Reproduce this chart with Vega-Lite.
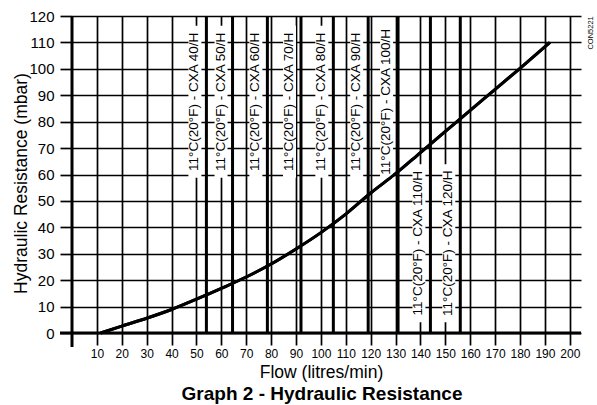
{
  "$schema": "https://vega.github.io/schema/vega-lite/v6.json",
  "width": 509,
  "height": 317,
  "autosize": {"type": "none"},
  "padding": {"left": 72, "top": 16, "right": 16, "bottom": 72},
  "background": "white",
  "title": {"text": "Graph 2 - Hydraulic Resistance", "orient": "bottom", "anchor": "middle", "frame": "group", "fontSize": 19, "fontWeight": "bold", "font": "Liberation Sans", "color": "black", "offset": 4, "dx": -4.5},
  "datasets": {
    "curve": [
      {"flow": 11.5, "resistance": 0},
      {"flow": 20, "resistance": 2.6},
      {"flow": 30, "resistance": 5.6},
      {"flow": 40, "resistance": 8.9},
      {"flow": 50, "resistance": 12.8},
      {"flow": 60, "resistance": 16.9},
      {"flow": 70, "resistance": 21.2},
      {"flow": 80, "resistance": 26.1},
      {"flow": 90, "resistance": 31.8},
      {"flow": 100, "resistance": 38},
      {"flow": 110, "resistance": 45},
      {"flow": 120, "resistance": 53},
      {"flow": 130, "resistance": 60.3},
      {"flow": 140, "resistance": 68.3},
      {"flow": 150, "resistance": 76.3},
      {"flow": 160, "resistance": 84.3},
      {"flow": 170, "resistance": 92.2},
      {"flow": 180, "resistance": 100.2},
      {"flow": 192, "resistance": 110}
    ],
    "models": [
      {"flow": 54, "model": "11°C(20°F) - CXA 40/H", "pos": "upper"},
      {"flow": 64.5, "model": "11°C(20°F) - CXA 50/H", "pos": "upper"},
      {"flow": 78.5, "model": "11°C(20°F) - CXA 60/H", "pos": "upper"},
      {"flow": 92, "model": "11°C(20°F) - CXA 70/H", "pos": "upper"},
      {"flow": 105, "model": "11°C(20°F) - CXA 80/H", "pos": "upper"},
      {"flow": 119, "model": "11°C(20°F) - CXA 90/H", "pos": "upper"},
      {"flow": 131, "model": "11°C(20°F) - CXA 100/H", "pos": "upper"},
      {"flow": 144, "model": "11°C(20°F) - CXA 110/H", "pos": "lower"},
      {"flow": 156, "model": "11°C(20°F) - CXA 120/H", "pos": "lower"}
    ]
  },
  "config": {
    "view": {"stroke": null},
    "font": "Liberation Sans",
    "axis": {
      "grid": true,
      "gridColor": "black",
      "gridWidth": 1.7,
      "gridOpacity": 1,
      "ticks": true,
      "tickColor": "black",
      "tickWidth": 1.7,
      "tickSize": 12,
      "tickCount": 50,
      "domain": false,
      "labelColor": "black",
      "labelFont": "Liberation Sans",
      "titleFont": "Liberation Sans",
      "titleColor": "black",
      "titleFontWeight": "normal",
      "titleFontSize": 17.5
    }
  },
  "layer": [
    {
      "data": {"name": "curve"},
      "mark": {"type": "line", "color": "black", "strokeWidth": 3, "interpolate": "monotone"},
      "encoding": {
        "x": {"field": "flow", "type": "quantitative", "scale": {"domain": [0, 204.5], "nice": false, "zero": false},
          "axis": {"values": [10,20,30,40,50,60,70,80,90,100,110,120,130,140,150,160,170,180,190,200], "tickCount": 50, "labelFontSize": 12, "labelPadding": 3, "labelFlush": false, "labelOverlap": false,
            "title": "Flow (litres/min)", "titleX": 249, "titleY": 44, "titleBaseline": "alphabetic", "titleAlign": "center"}},
        "y": {"field": "resistance", "type": "quantitative", "scale": {"domain": [0, 120], "nice": false, "zero": false},
          "axis": {"values": [0,10,20,30,40,50,60,70,80,90,100,110,120], "tickCount": 50, "labelFontSize": 15, "labelPadding": 6, "labelOverlap": false,
            "title": "Hydraulic Resistance (mbar)", "titleX": -46, "titleY": 167, "titleAngle": 270, "titleBaseline": "alphabetic", "titleAlign": "center"}}
      }
    },
    {
      "data": {"name": "models"},
      "transform": [{"filter": "datum.pos === 'upper'"}],
      "mark": {"type": "rect", "fill": "white", "xOffset": -18, "x2Offset": -5, "yOffset": -76, "y2Offset": 76},
      "encoding": {
        "x": {"field": "flow", "type": "quantitative"},
        "x2": {"field": "flow"},
        "y": {"datum": 87.5, "type": "quantitative"},
        "y2": {"datum": 87.5}
      }
    },
    {
      "data": {"name": "models"},
      "transform": [{"filter": "datum.pos === 'lower'"}],
      "mark": {"type": "rect", "fill": "white", "xOffset": -18, "x2Offset": -5, "yOffset": -79, "y2Offset": 79},
      "encoding": {
        "x": {"field": "flow", "type": "quantitative"},
        "x2": {"field": "flow"},
        "y": {"datum": 34, "type": "quantitative"},
        "y2": {"datum": 34}
      }
    },
    {
      "data": {"name": "models"},
      "mark": {"type": "rule", "color": "black", "strokeWidth": 3},
      "encoding": {
        "x": {"field": "flow", "type": "quantitative"},
        "y": {"datum": 0, "type": "quantitative"},
        "y2": {"datum": 120}
      }
    },
    {
      "data": {"values": [{}]},
      "mark": {"type": "rule", "color": "black", "strokeWidth": 3, "xOffset": -12},
      "encoding": {
        "x": {"datum": 0, "type": "quantitative"},
        "x2": {"datum": 204.5},
        "y": {"datum": 0, "type": "quantitative"}
      }
    },
    {
      "data": {"values": [{}]},
      "mark": {"type": "rule", "color": "black", "strokeWidth": 3, "y2Offset": 14},
      "encoding": {
        "x": {"datum": 0, "type": "quantitative"},
        "y": {"datum": 120, "type": "quantitative"},
        "y2": {"datum": 0}
      }
    },
    {
      "data": {"name": "curve"},
      "mark": {"type": "line", "color": "black", "strokeWidth": 3, "interpolate": "monotone"},
      "encoding": {
        "x": {"field": "flow", "type": "quantitative"},
        "y": {"field": "resistance", "type": "quantitative"}
      }
    },
    {
      "data": {"name": "models"},
      "transform": [{"filter": "datum.pos === 'upper'"}],
      "mark": {"type": "text", "angle": 270, "align": "center", "baseline": "middle", "fontSize": 13.5, "color": "black", "xOffset": -12},
      "encoding": {
        "x": {"field": "flow", "type": "quantitative"},
        "y": {"datum": 87.5, "type": "quantitative"},
        "text": {"field": "model"}
      }
    },
    {
      "data": {"name": "models"},
      "transform": [{"filter": "datum.pos === 'lower'"}],
      "mark": {"type": "text", "angle": 270, "align": "center", "baseline": "middle", "fontSize": 13.5, "color": "black", "xOffset": -12},
      "encoding": {
        "x": {"field": "flow", "type": "quantitative"},
        "y": {"datum": 34, "type": "quantitative"},
        "text": {"field": "model"}
      }
    },
    {
      "data": {"values": [{"code": "CON5221"}]},
      "mark": {"type": "text", "angle": 270, "align": "center", "baseline": "middle", "fontSize": 7.5, "color": "black"},
      "encoding": {
        "x": {"datum": 208.5, "type": "quantitative"},
        "y": {"datum": 113.6, "type": "quantitative"},
        "text": {"field": "code"}
      }
    }
  ]
}
